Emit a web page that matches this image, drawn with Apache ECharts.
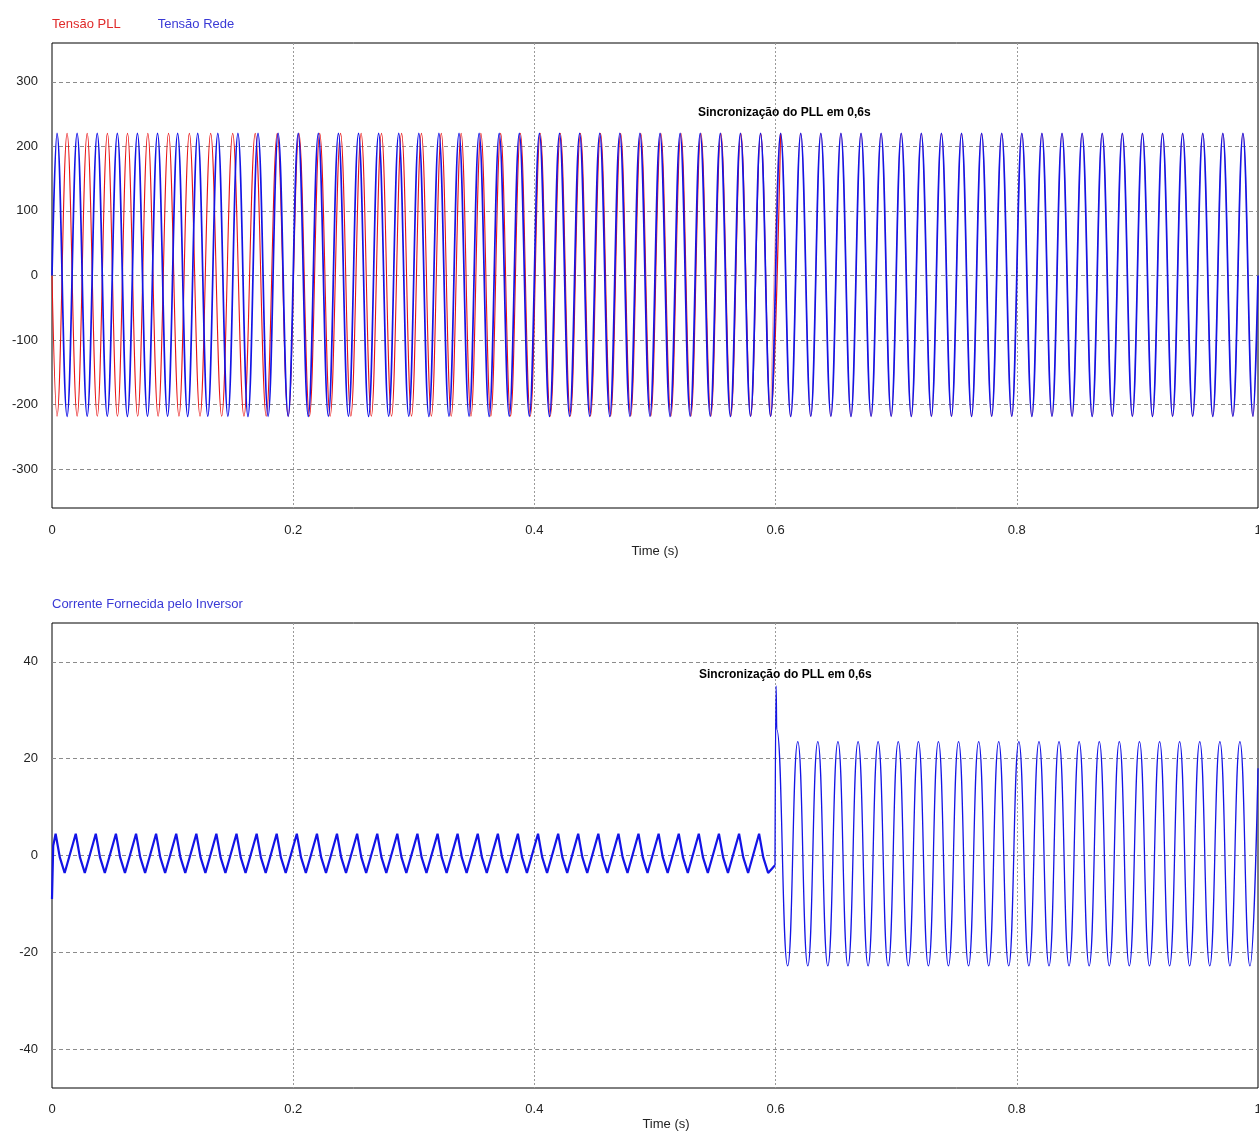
<!DOCTYPE html>
<html><head><meta charset="utf-8">
<script src="https://cdn.jsdelivr.net/npm/echarts@6/dist/echarts.min.js"></script>
<style>html,body{margin:0;padding:0;background:#fff;overflow:hidden}#c{width:1259px;height:1135px}</style>
</head><body><div id="c"></div>
<script>
// ---------- Top panel: Tensão Rede (grid voltage) extrema times, ms ----------
const redeExtremaMs = [
  4.17,12.50,20.83,29.17,37.50,45.83,54.17,62.50,70.83,79.17,87.50,95.83,
  104.17,112.50,120.83,129.17,137.50,145.83,154.17,162.50,170.83,179.17,187.50,195.83,
  204.17,212.50,220.83,229.17,237.50,245.83,254.17,262.50,270.83,279.17,287.50,295.83,
  304.17,312.50,320.83,329.17,337.50,345.83,354.17,362.50,370.83,379.17,387.50,395.83,
  404.17,412.50,420.83,429.17,437.50,445.83,454.17,462.50,470.83,479.17,487.50,495.83,
  504.17,512.50,520.83,529.17,537.50,545.83,554.17,562.50,570.83,579.17,587.50,595.83,
  604.17,612.50,620.83,629.17,637.50,645.83,654.17,662.50,670.83,679.17,687.50,695.83,
  704.17,712.50,720.83,729.17,737.50,745.83,754.17,762.50,770.83,779.17,787.50,795.83,
  804.17,812.50,820.83,829.17,837.50,845.83,854.17,862.50,870.83,879.17,887.50,895.83,
  904.17,912.50,920.83,929.17,937.50,945.83,954.17,962.50,970.83,979.17,987.50,995.83
];
const redeLevels = [220, -218];          // peak, trough (V)
const redeStart = [0, 0];
const redeEnd = [1000, 0];

// ---------- Top panel: Tensão PLL, delay of each extremum behind the grid extremum, ms ----------
const pllLagMs = [
  0,0,0,0, 0.05,0.1,0.1,0.1, 0.2,0.3,0.5,0.8,
  1.1,1.4,1.9,2.4, 3.2,4.0,5.0,6.0, 6.8,7.6,8.33,8.9,
  9.3,9.5,9.8,10.1, 10.3,10.5,10.6,10.7, 10.7,10.7,10.6,10.5,
  10.4,10.3,10.2,10.1, 9.9,9.8,9.7,9.5, 9.4,9.2,9.1,9.0,
  9.0,9.0,
  9.0,9.0,9.0,9.0,9.0,9.0,9.0,9.0,9.0,9.0,9.0,9.0,8.95,8.9,8.85,8.8,8.75,8.7,8.6,8.5,8.4,
  8.33,8.33,8.33,8.33,8.33,8.33,8.33,8.33,8.33,8.33,8.33,8.33,
  8.33,8.33,8.33,8.33,8.33,8.33,8.33,8.33,8.33,8.33,8.33,8.33,
  8.33,8.33,8.33,8.33,8.33,8.33,8.33,8.33,8.33,8.33,8.33,8.33,
  8.33,8.33,8.33,8.33,8.33,8.33,8.33,8.33,8.33,8.33,8.33,8.33
];
const pllLevels = [-218, 220];           // first extremum is a trough
const pllStart = [0, 0];
const pllEnd = [1000, -14];
const pllSyncMs = 600;                   // PLL synchronised from here on

// ---------- Bottom panel: Corrente Fornecida pelo Inversor ----------
const corrStartMs = [0, 1.0];
const corrStartV = [-9, 2];
const corrPrePeakMs = [
  3.0,19.7,36.3,53.0,69.7,86.3,103.0,119.7,136.3,153.0,169.7,186.3,
  203.0,219.7,236.3,253.0,269.7,286.3,303.0,319.7,336.3,353.0,369.7,386.3,
  403.0,419.7,436.3,453.0,469.7,486.3,503.0,519.7,536.3,553.0,569.7,586.3
];
const corrPreShapeMs = [0, 3.5, 7.5];    // peak, knee, trough within each cycle
const corrPreShapeV = [4.5, -0.4, -3.6];
const corrStepMs = [599.5, 600.4, 601.0];
const corrStepV = [-2, 35, 26];
const corrPostExtremaMs = [
  610.0,618.4,626.7,635.0,643.3,651.7,660.0,668.4,676.7,685.0,693.3,701.7,
  710.0,718.4,726.7,735.0,743.3,751.7,760.0,768.4,776.7,785.0,793.3,801.7,
  810.0,818.4,826.7,835.0,843.3,851.7,860.0,868.4,876.7,885.0,893.3,901.7,
  910.0,918.4,926.7,935.0,943.3,951.7,960.0,968.4,976.7,985.0,993.3
];
const corrPostLevels = [-22.8, 23.5];    // trough, peak
const corrEnd = [1000, 18];

// ---------- build series data ----------
const s = ms => ms / 1000;
const redeData = [[s(redeStart[0]), redeStart[1]]]
  .concat(redeExtremaMs.map((t, i) => [s(t), redeLevels[i % 2]]))
  .concat([[s(redeEnd[0]), redeEnd[1]]]);
const pllData = [[s(pllStart[0]), pllStart[1]]]
  .concat(pllLagMs.map((lag, i) => [s(redeExtremaMs[i] + lag), pllLevels[i % 2]]))
  .concat([[s(pllEnd[0]), pllEnd[1]]]);
const syncIdx = pllData.findIndex(p => p[0] >= s(pllSyncMs));
const pllDataA = pllData.slice(0, syncIdx + 1);
const pllDataB = pllData.slice(Math.max(0, syncIdx - 1));
const corrPreData = corrStartMs.map((t, i) => [s(t), corrStartV[i]]);
corrPrePeakMs.forEach(p => corrPreShapeMs.forEach((d, j) => corrPreData.push([s(p + d), corrPreShapeV[j]])));
corrPreData.push([s(corrStepMs[0]), corrStepV[0]]);
const corrPostData = corrStepMs.map((t, i) => [s(t), corrStepV[i]])
  .concat(corrPostExtremaMs.map((t, i) => [s(t), corrPostLevels[i % 2]]))
  .concat([[s(corrEnd[0]), corrEnd[1]]]);

const FONT = '"Liberation Sans", Arial, sans-serif';
const RED = '#e81414', BLUE = '#1414e6';
const CUR = 'Corrente Fornecida pelo Inversor';

function xAx(gi, gap, shift, margin) {
  return {
    type: 'value', gridIndex: gi, min: 0, max: 1, interval: 0.2,
    axisLine: {show: false}, axisTick: {show: false},
    axisLabel: {margin: margin, color: '#222', fontSize: 13, fontFamily: FONT},
    splitLine: {show: true, showMinLine: false, showMaxLine: false,
      lineStyle: {color: '#9a9a9a', type: [2, 2], width: 1}},
    name: 'Time (s)', nameLocation: 'middle', nameGap: gap,
    nameTextStyle: {color: '#222', fontSize: 13, fontFamily: FONT, padding: [0, 0, 0, shift]}
  };
}
function yAx(gi, mn, mx, step) {
  return {
    type: 'value', gridIndex: gi, min: mn, max: mx, minInterval: step, maxInterval: step,
    axisLine: {show: false}, axisTick: {show: false},
    axisLabel: {margin: 14, color: '#222', fontSize: 13, fontFamily: FONT, padding: [3, 0, 0, 0],
      showMinLabel: false, showMaxLabel: false,
      formatter: v => (Math.abs(v % step) < 1e-9 ? String(v) : '')},
    splitLine: {show: true, showMinLine: false, showMaxLine: false,
      lineStyle: {color: '#8c8c8c', type: [4, 3], width: 1}}
  };
}
const legendBase = {itemWidth: 0, itemHeight: 0, itemGap: 31, selectedMode: false,
  itemStyle: {opacity: 0}, lineStyle: {opacity: 0},
  textStyle: {fontSize: 13, fontFamily: FONT}};
const gridBase = {left: 52, width: 1206, height: 465, show: true, borderColor: '#000', borderWidth: 1,
  backgroundColor: 'transparent', containLabel: false, outerBoundsMode: 'none'};

const chart = echarts.init(document.getElementById('c'), null, {renderer: 'canvas'});
chart.setOption({
  animation: false,
  backgroundColor: '#fff',
  legend: [
    Object.assign({}, legendBase, {left: 41, top: 13,
      data: [{name: 'Tensão PLL', textStyle: {color: '#e02a2a'}},
             {name: 'Tensão Rede', textStyle: {color: '#3a3ad6'}}]}),
    Object.assign({}, legendBase, {left: 41, top: 593,
      data: [{name: CUR, textStyle: {color: '#3a3ad6'}}]})
  ],
  grid: [
    Object.assign({}, gridBase, {top: 43}),
    Object.assign({}, gridBase, {top: 623})
  ],
  xAxis: [xAx(0, 37, 0, 16), xAx(1, 30, 22, 15)],
  yAxis: [yAx(0, -360, 360, 100), yAx(1, -48, 48, 20)],
  graphic: [
    {type: 'text', left: 698, top: 107, z: 10,
      style: {text: 'Sincronização do PLL em 0,6s', font: 'bold 12px ' + FONT, fill: '#000'}},
    {type: 'text', left: 699, top: 669, z: 10,
      style: {text: 'Sincronização do PLL em 0,6s', font: 'bold 12px ' + FONT, fill: '#000'}}
  ],
  series: [
    {type: 'line', name: 'Tensão PLL', xAxisIndex: 0, yAxisIndex: 0, data: pllDataA,
      symbol: 'none', smooth: 0.4, z: 2, lineStyle: {color: RED, width: 1.1}, itemStyle: {color: RED}},
    {type: 'line', name: 'Tensão PLL', xAxisIndex: 0, yAxisIndex: 0, data: pllDataB,
      symbol: 'none', smooth: 0.4, z: 2, lineStyle: {color: RED, width: 0.4}, itemStyle: {color: RED}},
    {type: 'line', name: 'Tensão Rede', xAxisIndex: 0, yAxisIndex: 0, data: redeData,
      symbol: 'none', smooth: 0.4, z: 3, lineStyle: {color: BLUE, width: 1.7}, itemStyle: {color: BLUE}},
    {type: 'line', name: CUR, xAxisIndex: 1, yAxisIndex: 1, data: corrPreData,
      symbol: 'none', z: 3, lineStyle: {color: BLUE, width: 2.2}, itemStyle: {color: BLUE}},
    {type: 'line', name: CUR, xAxisIndex: 1, yAxisIndex: 1, data: corrPostData,
      symbol: 'none', smooth: 0.5, smoothMonotone: 'x', z: 3, lineStyle: {color: BLUE, width: 1.3}, itemStyle: {color: BLUE}}
  ]
});
</script></body></html>
